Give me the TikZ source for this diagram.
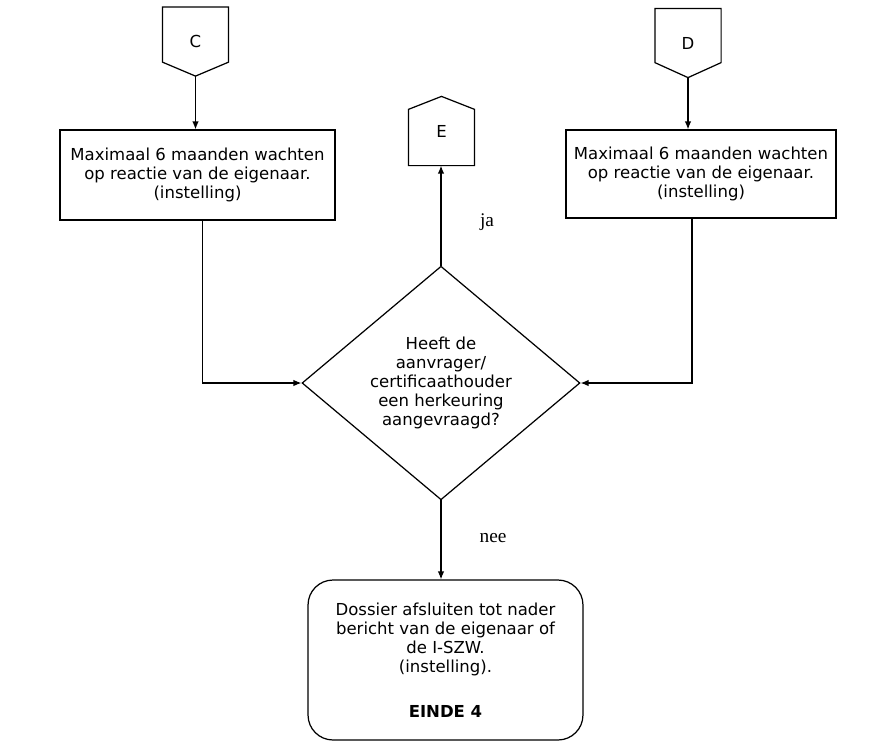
\documentclass[tikz,border=0pt]{standalone}
\usepackage{fontspec}
\setmainfont{DejaVu Sans}
\newfontfamily\labelfont{Liberation Serif}
\usepackage{tikz}
\usetikzlibrary{positioning,arrows.meta,shapes.geometric,calc}

\begin{document}
\begin{tikzpicture}[x=0.02cm, y=-0.02cm, line width=0.7pt, >={Latex[length=1.6mm,width=1.3mm]},
  every node/.style={font=\fontsize{9.4}{10.8}\selectfont},
  taskbox/.style={draw, align=center, minimum width=5.5cm, minimum height=1.8cm},
  question/.style={draw, diamond, align=center, inner sep=0pt, minimum width=5.56cm, minimum height=4.58cm},
  endbox/.style={draw, rounded corners=0.5cm, align=center, minimum width=5.5cm, minimum height=3.2cm},
  offpage/.style={minimum width=1.3cm, minimum height=1.36cm, inner sep=0pt},
  answer/.style={font=\labelfont\fontsize{11}{12}\selectfont}]
\useasboundingbox (0,0) rectangle (886,748);
\node[offpage] (C) at (195.5,41.5) {C};
\node[offpage] (D) at (688,43) {D};
\node[offpage] (E) at (441.5,131) {E};
\node[taskbox] (wachtC) at (197.5,175) {Maximaal 6 maanden wachten\\op reactie van de eigenaar.\\(instelling)};
\node[taskbox, minimum width=5.4cm, minimum height=1.76cm] (wachtD) at (701,174) {Maximaal 6 maanden wachten\\op reactie van de eigenaar.\\(instelling)};
\node[question] (herkeuring) at (441,383) {Heeft de\\aanvrager/\\certificaathouder\\een herkeuring\\aangevraagd?};
\node[endbox] (einde) at (445.5,660) {Dossier afsluiten tot nader\\bericht van de eigenaar of\\de I-SZW.\\(instelling).\\[2.9ex]\textbf{EINDE 4}};
\node[answer] (ja) at (487,222) {ja};
\node[answer] (nee) at (493,538) {nee};
% off-page connectors
\draw (C.north west) -- (C.north east) -- ([yshift=0.28cm]C.south east) -- (C.south) -- ([yshift=0.28cm]C.south west) -- cycle;
\draw (D.north west) -- (D.north east) -- ([yshift=0.3cm]D.south east) -- (D.south) -- ([yshift=0.3cm]D.south west) -- cycle;
\draw (E.south west) -- (E.south east) -- ([yshift=-0.26cm]E.north east) -- (E.north) -- ([yshift=-0.26cm]E.north west) -- cycle;
\draw[->] (C.south) -- (C.south |- wachtC.north); \draw[->] (D.south) -- (D.south |- wachtD.north);
\draw[->] ([xshift=0.1cm]wachtC.south) |- (herkeuring.west);
\draw[->] ([xshift=-0.18cm]wachtD.south) |- (herkeuring.east);
\draw[->] (herkeuring.north) -- (herkeuring.north |- E.south);
\draw[->] (herkeuring.south) -- (herkeuring.south |- einde.north);
\end{tikzpicture}
\end{document}
